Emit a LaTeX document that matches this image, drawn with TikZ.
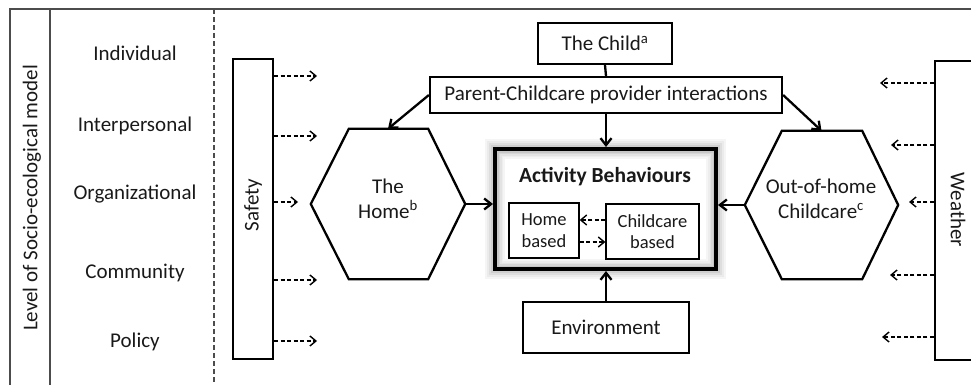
\documentclass[tikz,border=0pt]{standalone}
\usepackage{fontspec}
\setmainfont{Carlito}
\usetikzlibrary{arrows.meta,calc}
\begin{document}
\begin{tikzpicture}[x=1pt,y=-1pt,
  txt/.style={font=\fontsize{21}{24.5}\selectfont, text=black!90},
  smalltxt/.style={font=\fontsize{18.5}{21.5}\selectfont, text=black!90},
  plainbox/.style={draw, line width=2.2pt, inner sep=0pt},
  thinbox/.style={draw, line width=1.3pt, inner sep=0pt},
  hexarea/.style={inner sep=0pt, minimum width=154pt, minimum height=150pt},
  solidarrow/.style={line width=2.3pt, -{Straight Barb[length=7pt,width=11pt,line width=2.3pt]}},
  solidline/.style={line width=2.3pt},
  dasharrow/.style={line width=1.4pt, dash pattern=on 4pt off 2.5pt, -{Straight Barb[length=6pt,width=10pt,line width=1.4pt]}},
  frameline/.style={line width=1.2pt, draw=black!70},
]
\useasboundingbox (0,0) rectangle (971,385);
\clip (0,0) rectangle (971,385);

% frame
\draw[frameline] (10,385) -- (10,9) -- (975,9);
\draw[frameline] (50,9) -- (50,385);
\draw[frameline, dash pattern=on 5pt off 3pt] (214,9) -- (214,385);

\node[txt, rotate=90] (level) at (32,198) {Level of Socio-ecological model};
\node[txt] (ind) at (135,53) {Individual};
\node[txt] (inter) at (135,126) {Interpersonal};
\node[txt] (org) at (135,194) {Organizational};
\node[txt] (comm) at (135,273) {Community};
\node[txt] (pol) at (135,342) {Policy};

% Safety
\node[plainbox, minimum width=40pt, minimum height=300pt] (safety) at (253,209) {};
\node[txt, rotate=90] (safetyt) at (253,205) {Safety};

% Weather
\node[plainbox, minimum width=60pt, minimum height=299pt] (weather) at (965,210.5) {};
\node[txt, rotate=-90] (weathert) at (958,210) {Weather};

% Child and parent boxes
\node[plainbox, minimum width=134pt, minimum height=41pt, txt] (child) at (605,43.5) {The Child\textsuperscript{a}};
\node[plainbox, minimum width=352pt, minimum height=36pt, txt] (parent) at (606,95) {Parent-Childcare provider interactions};

% Hexagons
\node[hexarea] (home) at (388,204) {};
\draw[line width=2.3pt, line join=miter] (home.west) -- ([xshift=38pt]home.north west) -- ([xshift=-37pt]home.north east) -- (home.east) -- ([xshift=-37pt]home.south east) -- ([xshift=38pt]home.south west) -- cycle;
\node[txt, align=center] (homet) at (388,199) {The\\Home\textsuperscript{b}};

\node[hexarea, minimum width=153pt, minimum height=148pt] (care) at (821.5,205) {};
\draw[line width=2.3pt, line join=miter] (care.west) -- ([xshift=37pt]care.north west) -- ([xshift=-36pt]care.north east) -- (care.east) -- ([xshift=-36pt]care.south east) -- ([xshift=37pt]care.south west) -- cycle;
\node[txt, align=center] (caret) at (821,199) {Out-of-home\\Childcare\textsuperscript{c}};

% Activity box with glow
\foreach \w/\c in {20/4,17/8,14/14,11/22,8/34,5/48}{
  \draw[line width=\w pt, draw=black!\c] (495,149) rectangle (716,269);
}
\foreach \w/\c in {20/4,16/8,12/13,8/19}{
  \draw[line width=\w pt, draw=black!\c] (495,149) rectangle (716,269);
}
\fill[white] (505,159) rectangle (706,259);
\foreach \i/\c in {0/22,1.5/16,3/11,4.5/7,6/4}{
  \draw[line width=1.6pt, draw=black!\c] ($(495,149)+(\i+2.8,\i+2.8)$) rectangle ($(716,269)+(-\i-2.8,-\i-2.8)$);
}
\node[draw, line width=4pt, minimum width=221pt, minimum height=120pt, inner sep=0pt] (act) at (605.5,209) {};
\node[txt, font=\fontsize{21.5}{25}\selectfont\bfseries] (actt) at (605,177) {Activity Behaviours};

\node[thinbox, fill=white, smalltxt, align=center, minimum width=70pt, minimum height=55pt] (hb) at (544,230.5) {Home\\based};
\node[thinbox, fill=white, smalltxt, align=center, minimum width=93pt, minimum height=55pt] (cb) at (652.5,231.5) {Childcare\\based};

% Environment
\node[plainbox, minimum width=166pt, minimum height=51pt, txt] (env) at (606,327.5) {Environment};

% connectors
\draw[solidline] (child.south) -- (parent.north);
\draw[solidarrow] (parent.south) -- (act.north -| parent.south);
\draw[solidarrow] (parent.west) -- (home.north);
\draw[solidarrow] (parent.east) -- (care.north);
\draw[solidarrow] (home.east) -- (act.west |- home.east);
\draw[solidarrow] (care.west) -- (act.east |- care.west);
\draw[solidarrow] (env.north) -- (act.south -| env.north);

\draw[dasharrow] (cb.west |- 0,220) -- (hb.east |- 0,220);
\draw[dasharrow] (hb.east |- 0,242) -- (cb.west |- 0,242);

% Safety arrows
\coordinate (s1) at (317,76);
\coordinate (s2) at (317,136);
\coordinate (s3) at (298,202);
\coordinate (s4) at (317,280);
\coordinate (s5) at (317,341);
\foreach \s in {s1,s2,s3,s4,s5}{
  \draw[dasharrow] (safety.east |- \s) -- (\s);
}
% Weather arrows
\coordinate (w1) at (880,83);
\coordinate (w2) at (891,145);
\coordinate (w3) at (909,202);
\coordinate (w4) at (890,275);
\coordinate (w5) at (882,337);
\foreach \s in {w1,w2,w3,w4,w5}{
  \draw[dasharrow] (weather.west |- \s) -- (\s);
}
\end{tikzpicture}
\end{document}
